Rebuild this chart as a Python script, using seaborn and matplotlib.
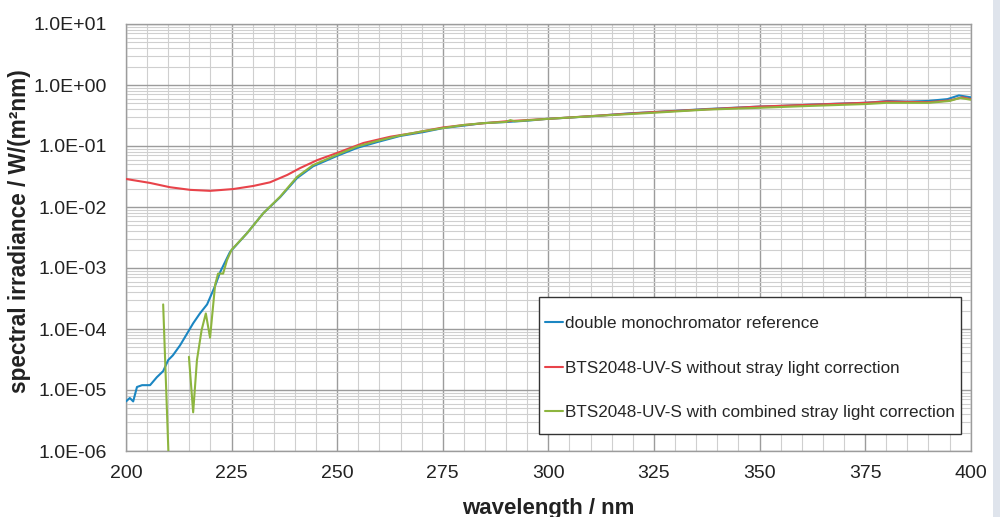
import matplotlib
matplotlib.use('Agg')
import matplotlib.pyplot as plt
from matplotlib.ticker import LogLocator, MultipleLocator, FuncFormatter, NullFormatter
from matplotlib.lines import Line2D
from matplotlib.patches import Rectangle
import numpy as np
import pandas as pd
import seaborn as sns

# ── Data ──────────────────────────────────────────────────────────────────
wl_ref = [200, 200.9, 201.7, 202.6, 203.8, 205.7, 207.3, 208.8, 210, 211.1,
          212.8, 214.5, 215.9, 217.5, 219.2, 221.1, 222.3, 224.6, 228.7, 232.5,
          236.5, 240.5, 244.3, 250, 254.7, 259.5, 264.9, 270.4, 275.1, 280,
          284.6, 290.3, 295, 299.8, 305, 311.6, 319.4, 325, 337.5, 350,
          355, 362, 368, 374.6, 377, 380.3, 385, 389.8, 394.5, 397.2, 400]
irr_ref = [6.5e-6, 7.4e-6, 6.5e-6, 1.12e-5, 1.2e-5, 1.2e-5, 1.62e-5, 2.04e-5, 3.1e-5, 3.7e-5,
           5.4e-5, 8.5e-5, 1.24e-4, 1.8e-4, 2.53e-4, 5.1e-4, 8.6e-4, 1.82e-3, 3.75e-3, 7.9e-3,
           1.45e-2, 2.98e-2, 4.65e-2, 6.9e-2, 9.3e-2, 0.116, 0.146, 0.169, 0.197, 0.216,
           0.237, 0.248, 0.26, 0.279, 0.292, 0.313, 0.344, 0.36, 0.404, 0.443,
           0.454, 0.476, 0.493, 0.51, 0.522, 0.547, 0.535, 0.547, 0.587, 0.675, 0.628]

wl_raw = [200, 205.7, 210.4, 215.2, 219.9, 225.4, 230.1, 234.1, 238.2, 241.2,
          245.3, 250, 256.2, 262.6, 268, 275, 280, 290, 300, 325,
          350, 375, 380, 390, 395, 398, 400]
irr_raw = [0.0288, 0.0248, 0.0211, 0.0191, 0.0184, 0.0197, 0.0221, 0.0254, 0.0336, 0.0434,
           0.0588, 0.077, 0.112, 0.142, 0.163, 0.201, 0.221, 0.254, 0.279, 0.36,
           0.443, 0.51, 0.535, 0.522, 0.558, 0.628, 0.587]

# combined correction: two pieces (gap between ~210 and ~215 nm)
wl_cor_a = [208.8, 210.3]
irr_cor_a = [2.53e-4, 3e-7]
wl_cor_b = [214.9, 215.9, 216.8, 217.9, 218.9, 219.9, 221.1, 221.8, 223.0, 223.9,
            225, 228.7, 232.5, 236.5, 240.5, 244.3, 250, 254.7, 259.5, 264.9,
            270.4, 275.1, 280, 284.6, 290, 291, 292, 300, 312, 325,
            337.5, 350, 362, 375, 380, 390, 395, 397.5, 400]
irr_cor_b = [3.5e-5, 4.3e-6, 3.1e-5, 9.6e-5, 1.8e-4, 7.2e-5, 5.3e-4, 8.1e-4, 8.1e-4, 1.34e-3,
             1.99e-3, 3.75e-3, 7.9e-3, 1.48e-2, 3.12e-2, 4.87e-2, 7.2e-2, 9.8e-2, 0.121, 0.149,
             0.175, 0.197, 0.221, 0.237, 0.248, 0.266, 0.254, 0.279, 0.313, 0.351,
             0.395, 0.423, 0.454, 0.487, 0.51, 0.51, 0.547, 0.614, 0.573]

LABELS = ['double monochromator reference',
          'BTS2048-UV-S without stray light correction',
          'BTS2048-UV-S with combined stray light correction']
COLORS = ['#1b86c2', '#e8434a', '#8db53f']

frames = [
    pd.DataFrame({'wl': wl_ref, 'irr': irr_ref, 'series': LABELS[0], 'seg': 'ref'}),
    pd.DataFrame({'wl': wl_raw, 'irr': irr_raw, 'series': LABELS[1], 'seg': 'raw'}),
    pd.DataFrame({'wl': wl_cor_a, 'irr': irr_cor_a, 'series': LABELS[2], 'seg': 'cor_a'}),
    pd.DataFrame({'wl': wl_cor_b, 'irr': irr_cor_b, 'series': LABELS[2], 'seg': 'cor_b'}),
]
df = pd.concat(frames, ignore_index=True)

# ── Plot ──────────────────────────────────────────────────────────────────
sns.set_style('white')
plt.rcParams['font.family'] = ['Liberation Sans', 'DejaVu Sans']

fig = plt.figure(figsize=(10, 5.17), dpi=100)
ax = fig.add_axes([0.126, 1 - 451 / 517, 0.8447, 427 / 517])

sns.lineplot(data=df, x='wl', y='irr', hue='series', units='seg', estimator=None,
             palette=dict(zip(LABELS, COLORS)), hue_order=LABELS, linewidth=1.5,
             sort=False, legend=False, ax=ax, zorder=3)

ax.set_yscale('log')
ax.set_xlim(200, 400)
ax.set_ylim(1e-6, 1e1)

ax.xaxis.set_major_locator(MultipleLocator(25))
ax.xaxis.set_minor_locator(MultipleLocator(5))
ax.yaxis.set_major_locator(LogLocator(base=10, numticks=20))
ax.yaxis.set_minor_locator(LogLocator(base=10, subs=np.arange(2, 10), numticks=50))
ax.yaxis.set_minor_formatter(NullFormatter())
ax.yaxis.set_major_formatter(FuncFormatter(lambda v, p: f'{v:.1E}'))

ax.grid(which='major', color='#9c9c9c', linewidth=1.0)
ax.grid(which='minor', color='#cfcfcf', linewidth=0.8)
ax.set_axisbelow(True)
ax.tick_params(which='both', length=0, labelsize=14, colors='#222222')
ax.tick_params(axis='y', pad=14)
ax.tick_params(axis='x', pad=10)
for s in ax.spines.values():
    s.set_color('#9c9c9c')
    s.set_linewidth(1.0)

ax.set_xlabel('wavelength / nm', fontsize=16, fontweight='bold', color='#222222')
ax.set_ylabel('spectral irradiance / W/(m²nm)', fontsize=16.3, fontweight='bold', color='#222222')
ax.xaxis.set_label_coords(0.5, -0.11)
ax.yaxis.set_label_coords(-0.1125, 0.515)

# legend: framed box drawn separately so padding matches the reference
box = (0.489, 0.040, 0.4995, 0.3607 - 0.040)
ax.add_patch(Rectangle(box[:2], box[2], box[3], transform=ax.transAxes,
                       facecolor='white', edgecolor='#333333', linewidth=1.0, zorder=4))
handles = [Line2D([0], [0], color=c, linewidth=1.5) for c in COLORS]
leg = ax.legend(handles, LABELS, loc='center', bbox_to_anchor=(box[0], box[1] - 0.006, box[2], box[3]),
                borderaxespad=0, fontsize=12.3, frameon=False,
                handlelength=1.05, handletextpad=0.1, labelspacing=1.75,
                borderpad=0.3)
leg.set_zorder(5)

fig.patches.append(Rectangle((0.993, 0), 0.007, 1, transform=fig.transFigure,
                             facecolor='#dfe4ec', edgecolor='none'))

fig.savefig('out.png', dpi=100)
